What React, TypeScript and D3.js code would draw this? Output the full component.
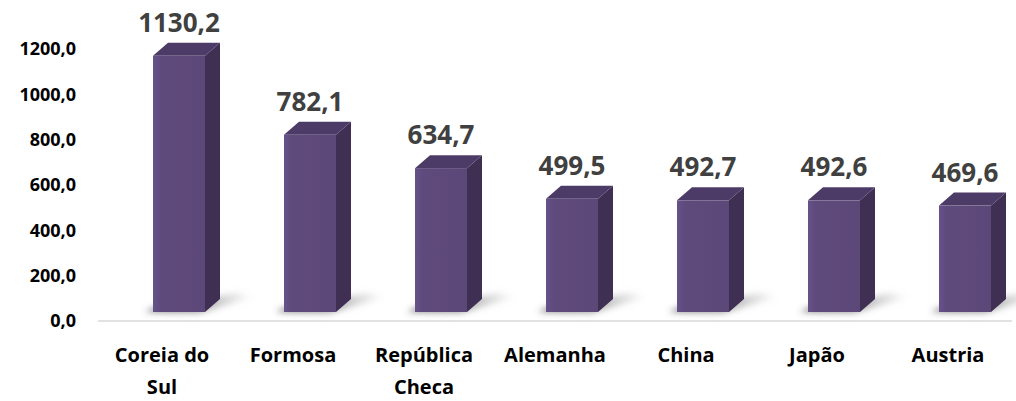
import React, { useEffect, useRef } from 'react';
import * as d3 from 'd3';

const categories = ['Coreia do Sul', 'Formosa', 'República Checa', 'Alemanha', 'China', 'Japão', 'Austria'];
const categoryLines = [['Coreia do', 'Sul'], ['Formosa'], ['República', 'Checa'], ['Alemanha'], ['China'], ['Japão'], ['Austria']];
const values = [1130.2, 782.1, 634.7, 499.5, 492.7, 492.6, 469.6];
const ticks = [0, 200, 400, 600, 800, 1000, 1200];

const width = 1016;
const height = 401;

const App: React.FC = () => {
  const svgRef = useRef<SVGSVGElement>(null);

  useEffect(() => {
    if (!svgRef.current) return;
    const svg = d3.select(svgRef.current);
    svg.selectAll('*').remove();

    const font = '"Open Sans", "Noto Sans", sans-serif';
    const fmt = (v: number) => v.toFixed(1).replace('.', ',');

    const xScale = d3.scaleBand<string>()
      .domain(categories)
      .range([96.5, 1013.5]);

    const yScale = d3.scaleLinear()
      .domain([0, 1200])
      .range([321, 49]);

    // 3D look
    const depthX = 15;
    const depthY = 13;
    const floorOffset = 9;
    const barW = 52;

    const defs = svg.append('defs');
    const blur = defs.append('filter').attr('id', 'shadowBlur')
      .attr('x', '-50%').attr('y', '-100%').attr('width', '200%').attr('height', '300%');
    blur.append('feGaussianBlur').attr('stdDeviation', 3);

    const shadowGrad = defs.append('linearGradient').attr('id', 'shadowGrad')
      .attr('x1', 0).attr('x2', 1).attr('y1', 0).attr('y2', 0);
    shadowGrad.append('stop').attr('offset', 0).attr('stop-color', '#555').attr('stop-opacity', 0.8);
    shadowGrad.append('stop').attr('offset', 0.5).attr('stop-color', '#666').attr('stop-opacity', 0.6);
    shadowGrad.append('stop').attr('offset', 1).attr('stop-color', '#999').attr('stop-opacity', 0);

    const frontGrad = defs.append('linearGradient').attr('id', 'frontGrad')
      .attr('x1', 0).attr('x2', 1).attr('y1', 0).attr('y2', 0);
    frontGrad.append('stop').attr('offset', 0).attr('stop-color', '#66528a');
    frontGrad.append('stop').attr('offset', 0.15).attr('stop-color', '#5f4a7c');
    frontGrad.append('stop').attr('offset', 1).attr('stop-color', '#5c4878');

    // axis line
    svg.append('line')
      .attr('x1', 98).attr('x2', 1012)
      .attr('y1', yScale(0)).attr('y2', yScale(0))
      .attr('stroke', '#d9d9d9')
      .attr('stroke-width', 1.5);

    // y tick labels
    svg.append('g').selectAll('text')
      .data(ticks)
      .join('text')
      .attr('x', 76)
      .attr('y', d => yScale(d))
      .attr('dy', '0.36em')
      .attr('text-anchor', 'end')
      .attr('font-family', font)
      .attr('font-weight', 700)
      .attr('font-size', 18)
      .attr('fill', '#000')
      .text(d => fmt(d));

    const bars = svg.append('g');
    values.forEach((v, i) => {
      const c = xScale(categories[i])! + xScale.bandwidth() / 2;
      const x0 = c - 9;
      const x1 = x0 + barW;
      const yTop = yScale(v) - floorOffset;
      const yBot = yScale(0) - floorOffset;

      // floor shadow
      bars.append('path')
        .attr('d', `M${x0 - 8},${yBot} L${x1 - 6},${yBot + 1} L${x1 + 50},${yBot - depthY - 2} L${x1 + 30},${yBot - depthY - 6} L${x1},${yBot - depthY} L${x0},${yBot - 4} Z`)
        .attr('fill', 'url(#shadowGrad)')
        .attr('filter', 'url(#shadowBlur)');

      // side face
      bars.append('path')
        .attr('d', `M${x1},${yTop} L${x1 + depthX},${yTop - depthY} L${x1 + depthX},${yBot - depthY} L${x1},${yBot} Z`)
        .attr('fill', '#3e2f53');

      // top face
      bars.append('path')
        .attr('d', `M${x0},${yTop} L${x0 + depthX},${yTop - depthY} L${x1 + depthX},${yTop - depthY} L${x1},${yTop} Z`)
        .attr('fill', '#4c3b67');

      // front face
      bars.append('rect')
        .attr('x', x0).attr('y', yTop)
        .attr('width', barW).attr('height', yBot - yTop)
        .attr('fill', 'url(#frontGrad)');

      // value label
      bars.append('text')
        .attr('x', x0 + barW / 2)
        .attr('y', yTop - depthY - 11)
        .attr('text-anchor', 'middle')
        .attr('font-family', font)
        .attr('font-weight', 700)
        .attr('font-size', 26)
        .attr('fill', '#404040')
        .text(fmt(v));
    });

    // category labels
    const cat = svg.append('g');
    categories.forEach((name, i) => {
      const c = xScale(name)! + xScale.bandwidth() / 2;
      const t = cat.append('text')
        .attr('text-anchor', 'middle')
        .attr('font-family', font)
        .attr('font-weight', 700)
        .attr('font-size', 20)
        .attr('fill', '#000');
      categoryLines[i].forEach((line, j) => {
        t.append('tspan')
          .attr('x', c)
          .attr('y', 362 + j * 32)
          .text(line);
      });
    });
  }, []);

  return (
    <div style={{ position: 'absolute', left: 0, top: 0 }}>
      <svg ref={svgRef} width={width} height={height} style={{ display: 'block', background: '#fff' }}></svg>
    </div>
  );
};

export default App;
